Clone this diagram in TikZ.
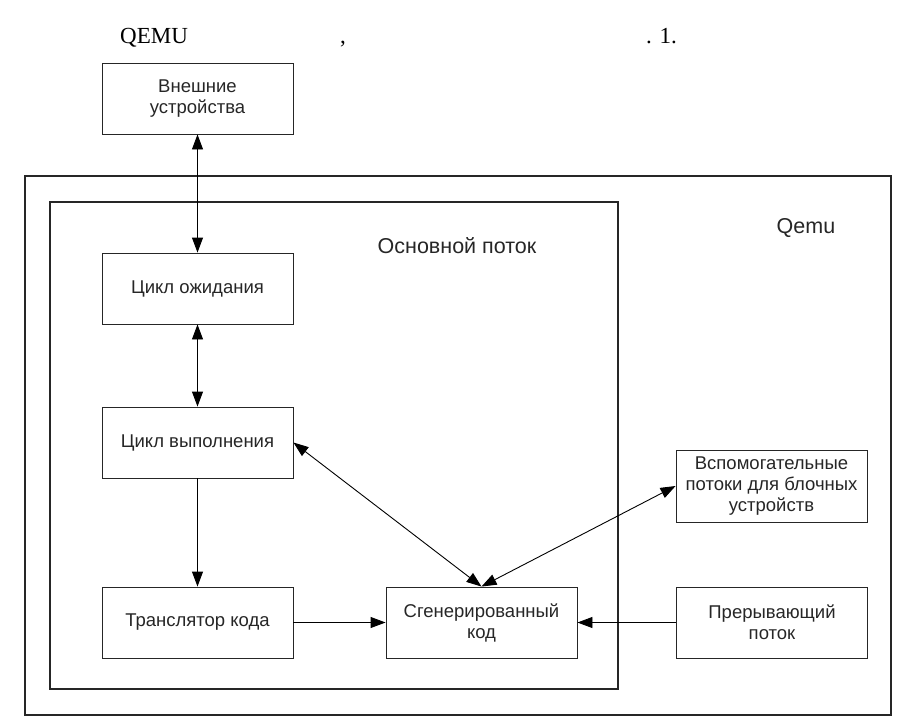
\documentclass[tikz,border=0pt]{standalone}
\usepackage{fontspec}
\setmainfont{Liberation Serif}
\newfontfamily\arialfont{Liberation Sans}
\usetikzlibrary{arrows.meta}
\begin{document}
\begin{tikzpicture}[x=1pt,y=-1pt,
  box/.style={draw=black!85, line width=0.9pt, minimum width=191pt, minimum height=71pt,
    inner sep=0pt, align=center, font=\arialfont\fontsize{18.5}{21}\selectfont, text=black!85},
  frame/.style={draw=black!85, line width=1.2pt},
  lbl/.style={inner sep=0pt, font=\arialfont\fontsize{21.5}{25}\selectfont, text=black!85},
  toptext/.style={inner sep=0pt, anchor=base west, font=\fontsize{23}{27}\selectfont},
  tip/.tip={Triangle[length=15pt,width=11pt]},
  arr/.style={line width=0.9pt, -tip},
  darr/.style={line width=0.9pt, tip-tip}
]
\useasboundingbox (0,0) rectangle (899,723);

% top text line
\node[toptext] (t1) at (120,43) {QEMU};
\node[toptext] (t2) at (340,43) {,};
\node[toptext] (t3) at (646,43) {. 1.};

% frames
\draw[frame] (25,176) rectangle (891,715);
\draw[frame] (50,202) rectangle (618,689);
\node[lbl] (qemulbl) at (806,228) {Qemu};
\node[lbl] (mainlbl) at (457,246) {Основной поток};

% boxes
\node[box] (ext) at (197.5,98.5) {Внешние\\устройства};
\node[box] (wait) at (197.5,288.5) {Цикл ожидания};
\node[box] (exec) at (197.5,442.5) {Цикл выполнения};
\node[box] (trans) at (197.5,622.5) {Транслятор кода};
\node[box] (gen) at (481.5,622.5) {Сгенерированный\\код};
\node[box, minimum height=72pt] (aux) at (771.5,486) {Вспомогательные\\потоки для блочных\\устройств};
\node[box] (intr) at (772,622.5) {Прерывающий\\поток};

% connectors
\draw[darr] (ext.south) -- (wait.north);
\draw[darr] (wait.south) -- (exec.north);
\draw[arr] (exec.south) -- (trans.north);
\draw[arr] (trans.east) -- (gen.west);
\draw[arr] (intr.west) -- (gen.east);
\draw[darr] (exec.east) -- (gen.north);
\draw[darr] (aux.west) -- (gen.north);
\end{tikzpicture}
\end{document}
